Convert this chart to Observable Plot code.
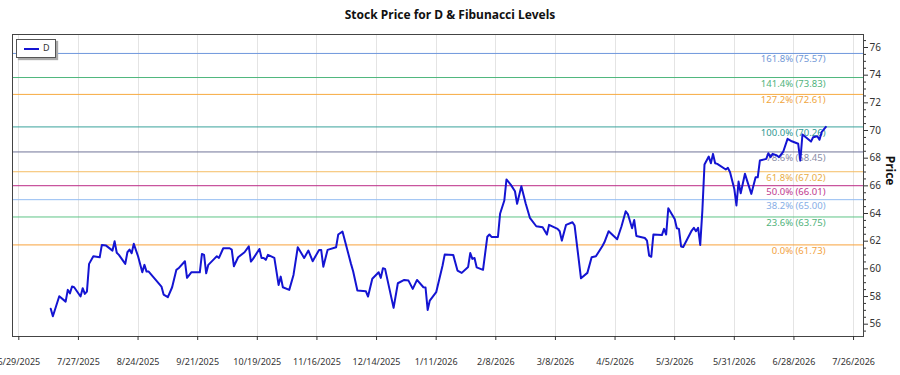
<!DOCTYPE html>
<html>
<head>
<meta charset="utf-8">
<script src="https://cdn.jsdelivr.net/npm/d3@7"></script>
<script src="https://cdn.jsdelivr.net/npm/@observablehq/plot@0.6"></script>
<style>
  body { margin: 0; background: #fff; font-family: "Noto Sans", sans-serif; }
  #wrap { position: relative; width: 900px; height: 375px; }
  #title { height: 30px; line-height: 30px; text-align: center; font-weight: bold; font-size: 12px; color: #111; }
  #legend { position: absolute; left: 16px; top: 39px; width: 40px; height: 19px; border: 1px solid #555;
            background: #fff; box-shadow: 2px 2px 1px #aaa; box-sizing: border-box; }
  #legend .sw { position: absolute; left: 7px; top: 8px; width: 15px; height: 2px; background: #1414d2; }
  #legend .lb { position: absolute; left: 26px; top: 2px; font-size: 9px; line-height: 12px; color: #333; }
</style>
</head>
<body>
<div id="wrap">
  <div id="title">Stock Price for D &amp; Fibunacci Levels</div>
  <div id="chart"></div>
  <div id="legend"><div class="sw"></div><div class="lb">D</div></div>
</div>
<script>
// Daily closing prices for D
const dates = [
  "2025-07-14","2025-07-15","2025-07-18","2025-07-21","2025-07-22","2025-07-23","2025-07-24","2025-07-25",
  "2025-07-28","2025-07-29","2025-07-30","2025-07-31","2025-08-01","2025-08-03","2025-08-06","2025-08-07",
  "2025-08-09","2025-08-12","2025-08-13","2025-08-14","2025-08-15","2025-08-18","2025-08-19","2025-08-20",
  "2025-08-21","2025-08-22","2025-08-24","2025-08-26","2025-08-27","2025-08-28","2025-08-29","2025-09-04",
  "2025-09-05","2025-09-07","2025-09-09","2025-09-11","2025-09-12","2025-09-15","2025-09-16","2025-09-18",
  "2025-09-22","2025-09-23","2025-09-24","2025-09-25","2025-09-26","2025-09-29","2025-09-30","2025-10-01",
  "2025-10-03","2025-10-06","2025-10-07","2025-10-08","2025-10-10","2025-10-13","2025-10-15","2025-10-16",
  "2025-10-17","2025-10-20","2025-10-21","2025-10-22","2025-10-23","2025-10-24","2025-10-27","2025-10-29",
  "2025-10-30","2025-10-31","2025-11-03","2025-11-05","2025-11-07","2025-11-10","2025-11-12","2025-11-14",
  "2025-11-17","2025-11-18","2025-11-19","2025-11-21","2025-11-25","2025-11-26","2025-11-28","2025-12-02",
  "2025-12-03","2025-12-05","2025-12-09","2025-12-10","2025-12-12","2025-12-15","2025-12-16","2025-12-17",
  "2025-12-18","2025-12-22","2025-12-24","2025-12-27","2025-12-29","2025-12-31","2026-01-02","2026-01-05",
  "2026-01-06","2026-01-07","2026-01-08","2026-01-11","2026-01-14","2026-01-15","2026-01-19","2026-01-21",
  "2026-01-23","2026-01-26","2026-01-27","2026-01-28","2026-01-29","2026-01-30","2026-02-02","2026-02-04",
  "2026-02-05","2026-02-06","2026-02-09","2026-02-10","2026-02-12","2026-02-13","2026-02-15","2026-02-17",
  "2026-02-18","2026-02-20","2026-02-22","2026-02-24","2026-02-27","2026-03-02","2026-03-04","2026-03-05",
  "2026-03-09","2026-03-10","2026-03-11","2026-03-13","2026-03-16","2026-03-17","2026-03-20","2026-03-23",
  "2026-03-25","2026-03-27","2026-03-30","2026-03-31","2026-04-02","2026-04-06","2026-04-08","2026-04-10",
  "2026-04-11","2026-04-13","2026-04-14","2026-04-15","2026-04-19","2026-04-20","2026-04-21","2026-04-22",
  "2026-04-23","2026-04-27","2026-04-28","2026-04-29","2026-04-30","2026-05-03","2026-05-04","2026-05-05",
  "2026-05-06","2026-05-07","2026-05-11","2026-05-12","2026-05-13","2026-05-14","2026-05-15","2026-05-16",
  "2026-05-17","2026-05-19","2026-05-20","2026-05-21","2026-05-22","2026-05-23","2026-05-27","2026-05-28",
  "2026-05-29","2026-05-31","2026-06-01","2026-06-02","2026-06-03","2026-06-05","2026-06-06","2026-06-08",
  "2026-06-10","2026-06-11","2026-06-12","2026-06-15","2026-06-16","2026-06-17","2026-06-18","2026-06-20",
  "2026-06-21","2026-06-23","2026-06-25","2026-06-27","2026-06-30","2026-07-01","2026-07-02","2026-07-06",
  "2026-07-07","2026-07-09","2026-07-10","2026-07-11","2026-07-13"
];
const closes = [
  57.11,56.57,58.02,57.63,58.48,58.23,58.72,58.67,
  58.00,58.60,58.19,58.36,60.36,60.91,60.84,61.73,
  61.68,61.32,61.99,61.16,61.01,60.36,61.20,61.39,
  61.13,61.81,60.91,59.75,60.29,59.80,59.80,58.72,
  58.14,57.95,58.67,59.93,60.04,60.55,59.35,59.75,
  59.75,61.08,61.01,59.68,60.29,60.76,60.91,60.79,
  61.49,61.49,61.39,60.19,60.84,61.20,61.63,60.53,
  60.72,61.44,60.79,60.79,60.65,61.01,60.79,58.84,
  59.44,58.67,58.48,59.56,61.56,60.79,61.32,60.55,
  61.37,61.37,60.16,61.37,61.56,62.48,62.70,60.36,
  59.83,58.43,58.38,58.00,59.28,59.75,59.35,60.04,
  60.00,57.18,58.96,59.20,59.15,58.55,59.20,58.67,
  58.65,57.03,57.71,58.31,60.24,61.03,61.01,59.88,
  59.71,60.14,61.14,60.72,60.79,60.11,59.93,62.32,
  62.48,62.31,62.30,63.98,64.94,66.46,66.09,65.61,
  64.70,65.97,64.74,63.69,63.08,63.01,62.48,63.18,
  62.89,62.72,62.04,63.18,63.37,63.13,59.32,59.71,
  60.84,60.91,61.63,61.92,62.72,62.14,63.06,64.16,
  63.96,62.93,63.53,62.38,62.23,62.04,60.96,60.87,
  62.48,62.44,62.89,62.48,64.38,63.61,62.93,62.89,
  61.62,61.58,62.77,62.96,62.72,62.96,61.73,64.21,
  67.54,68.12,67.63,68.31,67.63,67.59,67.18,67.30,
  66.98,65.78,64.58,66.31,65.46,66.87,66.38,65.42,
  66.62,66.62,67.83,67.95,68.36,68.07,68.31,68.19,
  68.07,68.48,69.40,69.22,69.04,67.83,69.71,69.20,
  69.51,69.59,69.33,69.88,70.26
];

// Fibonacci retracement / extension levels
const fibRatios = ["161.8%","141.4%","127.2%","100.0%","78.6%","61.8%","50.0%","38.2%","23.6%","0.0%"];
const fibPrices = [75.57, 73.83, 72.61, 70.26, 68.45, 67.02, 66.01, 65.00, 63.75, 61.73];
const fibLineColors = ["#6f97dc","#4fb67c","#f7ab40","#3aa39c","#717598","#f5bd63","#bb2a86","#93bcf2","#5fc486","#f8a23c"];
const fibTextColors = ["#7097d6","#4fb27b","#f0a53c","#2f9892","#8a8ca6","#e8ad45","#c0398e","#86aee6","#4fb27b","#f2a23e"];

// Axis ticks
const xTickLabels = ["6/29/2025","7/27/2025","8/24/2025","9/21/2025","10/19/2025","11/16/2025","12/14/2025",
  "1/11/2026","2/8/2026","3/8/2026","4/5/2026","5/3/2026","5/31/2026","6/28/2026","7/26/2026"];
const yTicks = [56, 58, 60, 62, 64, 66, 68, 70, 72, 74, 76];

const parseMDY = d3.utcParse("%m/%d/%Y");
const fmtMDY = d3.utcFormat("%-m/%-d/%Y");
const xTicks = xTickLabels.map(parseMDY);
const prices = dates.map((d, i) => ({date: new Date(d), close: closes[i]}));
const fibs = fibPrices.map((p, i) => ({
  price: p, label: `${fibRatios[i]} (${p.toFixed(2)})`, line: fibLineColors[i], text: fibTextColors[i]
}));
const yMinor = d3.range(55.5, 77, 0.5).filter(v => !yTicks.includes(v));

const chart = Plot.plot({
  width: 900,
  height: 345,
  marginTop: 4,
  marginBottom: 39,
  marginLeft: 12,
  marginRight: 37,
  style: {fontFamily: "'Noto Sans', sans-serif", fontSize: "9px", color: "#333", background: "#fff"},
  x: {type: "utc", domain: [new Date("2025-06-26T01:00Z"), new Date("2026-07-30T16:00Z")]},
  y: {domain: [55.11, 76.94]},
  marks: [
    Plot.ruleX(xTicks, {stroke: "#e4e4e4", strokeWidth: 1, shapeRendering: "crispEdges"}),
    Plot.ruleY(fibs, {y: "price", stroke: "line", strokeWidth: 1}),
    Plot.text(fibs, {y: "price", text: "label", fill: "text", frameAnchor: "right", textAnchor: "end",
                     dx: -38, dy: 6, fontSize: 9.5}),
    Plot.line(prices, {x: "date", y: "close", stroke: "#1414d2", strokeWidth: 2}),
    Plot.frame({stroke: "#444", shapeRendering: "crispEdges"}),
    Plot.axisX({ticks: xTicks, tickFormat: fmtMDY, tickSize: 4, tickPadding: 18, label: null, fontSize: 9}),
    Plot.axisY({anchor: "right", ticks: yTicks, tickSize: 4, tickPadding: 2, label: null, fontSize: 10}),
    Plot.axisY({anchor: "right", ticks: yMinor, tickSize: 2, tickFormat: () => "", label: null}),
    Plot.text(["Price"], {frameAnchor: "right", dx: 26, rotate: 90, fontWeight: "bold", fontSize: 12, fill: "#111"})
  ]
});
document.getElementById("chart").appendChild(chart);
</script>
</body>
</html>
